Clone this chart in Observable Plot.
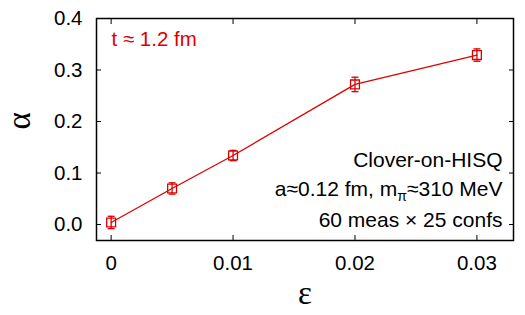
<!DOCTYPE html>
<html><head><meta charset="utf-8">
<script src="https://cdn.jsdelivr.net/npm/d3@7"></script>
<script src="https://cdn.jsdelivr.net/npm/@observablehq/plot@0.6"></script>
<style>body{margin:0;background:#fff}</style>
</head><body><div id="chart"></div>
<script>
const eps = [0, 0.005, 0.01, 0.02, 0.03];
const alpha = [0.004, 0.070, 0.134, 0.272, 0.329];
const err = [0.012, 0.011, 0.010, 0.014, 0.012];
const xTicks = [0, 0.01, 0.02, 0.03];
const xTickLabels = ["0", "0.01", "0.02", "0.03"];
const yTicks = [0.0, 0.1, 0.2, 0.3, 0.4];
const yTickLabels = ["0.0", "0.1", "0.2", "0.3", "0.4"];
const notes = ["Clover-on-HISQ", "a≈0.12 fm, mπ≈310 MeV", "60 meas × 25 confs"];
const tLabel = "t ≈ 1.2 fm";

const data = eps.map((e, i) => ({x: e, y: alpha[i], lo: alpha[i] - err[i], hi: alpha[i] + err[i]}));
const red = "#dd0000";
const font = "'Liberation Sans', Arial, sans-serif";
const serif = "'Liberation Serif', 'Times New Roman', serif";
const cap = {draw(ctx, size) { const r = Math.sqrt(size / Math.PI); ctx.moveTo(-r, 0); ctx.lineTo(r, 0); }};

const chart = Plot.plot({
  width: 525, height: 315,
  marginLeft: 96, marginRight: 12, marginTop: 18, marginBottom: 75,
  style: {fontFamily: font, fontSize: "20.5px", color: "#000", background: "#fff"},
  x: {domain: [-0.0012, 0.033]},
  y: {domain: [-0.031, 0.4]},
  marks: [
    Plot.axisY(yTicks, {anchor: "left", tickSize: -5, tickPadding: 19, tickFormat: (d, i) => yTickLabels[i], label: null, fontSize: 20.5}),
    Plot.axisY(yTicks, {anchor: "right", tickSize: -5, tickFormat: () => "", label: null}),
    Plot.axisX(xTicks, {anchor: "bottom", tickSize: -5, tickPadding: 20, tickFormat: (d, i) => xTickLabels[i], label: null, fontSize: 20.5}),
    Plot.axisX(xTicks, {anchor: "top", tickSize: -5, tickFormat: () => "", label: null}),
    Plot.frame({stroke: "#000", strokeWidth: 1.5}),
    Plot.line(data, {x: "x", y: "y", stroke: red, strokeWidth: 1.3}),
    Plot.ruleX(data, {x: "x", y1: "lo", y2: "hi", stroke: red, strokeWidth: 1.3}),
    Plot.dot(data, {x: "x", y: "lo", symbol: cap, r: 3.5, stroke: red, strokeWidth: 1.3}),
    Plot.dot(data, {x: "x", y: "hi", symbol: cap, r: 3.5, stroke: red, strokeWidth: 1.3}),
    Plot.dot(data, {x: "x", y: "y", symbol: "square", r: 5, stroke: red, fill: "none", strokeWidth: 1.3}),
    Plot.text([tLabel], {frameAnchor: "top-left", dx: 15, dy: 21, lineAnchor: "middle", textAnchor: "start", fill: red, fontSize: 20.5}),
    Plot.text(notes, {frameAnchor: "bottom-right", textAnchor: "end", lineAnchor: "middle", dx: -11, fontSize: 21, fill: "#000", className: "note"}),
    Plot.text(["α"], {frameAnchor: "left", rotate: -90, dx: -77, fontSize: 33, fontFamily: serif, lineAnchor: "middle"}),
    Plot.text(["ε"], {frameAnchor: "bottom", dy: 53, fontSize: 33, fontFamily: serif, lineAnchor: "middle"})
  ]
});

// position notes lines and add subscript
const noteDy = [-80, -51, -20];
chart.querySelectorAll("g.note text").forEach((t, i) => {
  const tr = t.getAttribute("transform") || "";
  t.setAttribute("transform", tr + ` translate(0,${noteDy[i]})`);
  if (t.textContent.includes("mπ")) {
    const [a, b] = t.textContent.split("mπ");
    t.textContent = "";
    const ns = "http://www.w3.org/2000/svg";
    const s1 = document.createElementNS(ns, "tspan"); s1.textContent = a + "m";
    const s2 = document.createElementNS(ns, "tspan"); s2.textContent = "π"; s2.setAttribute("font-size", "14"); s2.setAttribute("dy", "5");
    const s3 = document.createElementNS(ns, "tspan"); s3.textContent = b; s3.setAttribute("dy", "-5");
    t.append(s1, s2, s3);
  }
});
document.getElementById("chart").append(chart);
</script>
</body></html>
